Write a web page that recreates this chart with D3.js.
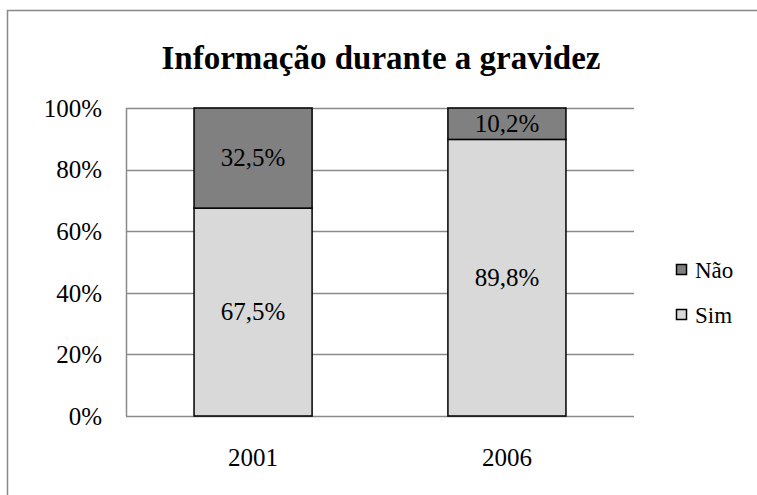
<!DOCTYPE html>
<html>
<head>
<meta charset="utf-8">
<script src="https://cdn.jsdelivr.net/npm/d3@7"></script>
<style>
  body { margin: 0; background: #fff; }
</style>
</head>
<body>
<svg id="chart" width="757" height="495"></svg>
<script>
// data
var years = ["2001", "2006"];
var sim = [67.5, 89.8];
var nao = [32.5, 10.2];
var seriesNames = ["Não", "Sim"];
var yTicks = [0, 20, 40, 60, 80, 100];

var colors = {"Sim": "#d9d9d9", "Não": "#808080"};
var FONT = "Liberation Serif";

var svg = d3.select("#chart");
var margin = {top: 108, left: 126, right: 123, bottom: 79};
var width = 757 - margin.left - margin.right;
var height = 495 - margin.top - margin.bottom;

// outer frame (runs off the right and bottom edge like the original)
svg.append("rect")
    .attr("x", 7.5).attr("y", 10.5)
    .attr("width", 760).attr("height", 500)
    .attr("fill", "none").attr("stroke", "#888").attr("stroke-width", 1.5);

svg.append("text")
    .attr("x", 381).attr("y", 69)
    .attr("text-anchor", "middle")
    .attr("font-family", FONT)
    .attr("font-size", 33).attr("font-weight", "bold")
    .text("Informação durante a gravidez");

var g = svg.append("g")
    .attr("transform", "translate(" + margin.left + "," + margin.top + ")");

var x = d3.scaleBand().domain(years).range([0, width]).paddingInner(0.535).paddingOuter(0.268);
var y = d3.scaleLinear().domain([0, 100]).range([height, 0]);

// gridlines
g.selectAll(".grid").data(yTicks).enter().append("line")
    .attr("class", "grid")
    .attr("x1", 0).attr("x2", width)
    .attr("y1", function(d) { return Math.round(y(d)) + 0.5; })
    .attr("y2", function(d) { return Math.round(y(d)) + 0.5; })
    .attr("stroke", "#8a8a8a").attr("stroke-width", 1.5);

g.append("line")
    .attr("x1", 0.5).attr("x2", 0.5).attr("y1", 0).attr("y2", height)
    .attr("stroke", "#8a8a8a").attr("stroke-width", 1.5);

var yAxis = d3.axisLeft(y).tickValues(yTicks).tickSize(0).tickPadding(24)
    .tickFormat(function(d) { return d + "%"; });
g.append("g").call(yAxis)
    .attr("font-family", FONT)
    .call(function(a) { a.select(".domain").remove(); })
    .selectAll("text")
    .attr("font-family", FONT).attr("fill", "#000")
    .attr("font-size", 25).attr("dy", "0.33em");

var xAxis = d3.axisBottom(x).tickSize(0).tickPadding(32);
g.append("g").attr("transform", "translate(0," + height + ")").call(xAxis)
    .attr("font-family", FONT)
    .call(function(a) { a.select(".domain").remove(); })
    .selectAll("text")
    .attr("font-family", FONT).attr("fill", "#000")
    .attr("font-size", 25);

// stacked bars
var rows = years.map(function(yr, i) { return {year: yr, "Sim": sim[i], "Não": nao[i]}; });
var stack = d3.stack().keys(["Sim", "Não"])(rows);

var fmt = function(v) { return v.toFixed(1).replace(".", ",") + "%"; };

stack.forEach(function(layer) {
    var grp = g.append("g");
    grp.selectAll("rect").data(layer).enter().append("rect")
        .attr("x", function(d) { return x(d.data.year); })
        .attr("y", function(d) { return y(d[1]); })
        .attr("width", x.bandwidth())
        .attr("height", function(d) { return y(d[0]) - y(d[1]); })
        .attr("fill", colors[layer.key])
        .attr("stroke", "#000").attr("stroke-width", 1.5);
    grp.selectAll("text").data(layer).enter().append("text")
        .attr("x", function(d) { return x(d.data.year) + x.bandwidth() / 2; })
        .attr("y", function(d) { return (y(d[0]) + y(d[1])) / 2; })
        .attr("dy", "0.33em")
        .attr("text-anchor", "middle")
        .attr("font-family", FONT)
        .attr("font-size", 25)
        .text(function(d) { return fmt(d[1] - d[0]); });
});

// legend
var legend = svg.append("g").attr("transform", "translate(676,264)");
seriesNames.forEach(function(name, i) {
    var row = legend.append("g").attr("transform", "translate(0," + (i * 45) + ")");
    row.append("rect").attr("x", 0.5).attr("y", 0.5).attr("width", 10).attr("height", 10)
        .attr("fill", colors[name]).attr("stroke", "#000").attr("stroke-width", 1.5);
    row.append("text").attr("x", 19).attr("y", 14)
        .attr("font-family", FONT).attr("font-size", 23).text(name);
});
</script>
</body>
</html>
